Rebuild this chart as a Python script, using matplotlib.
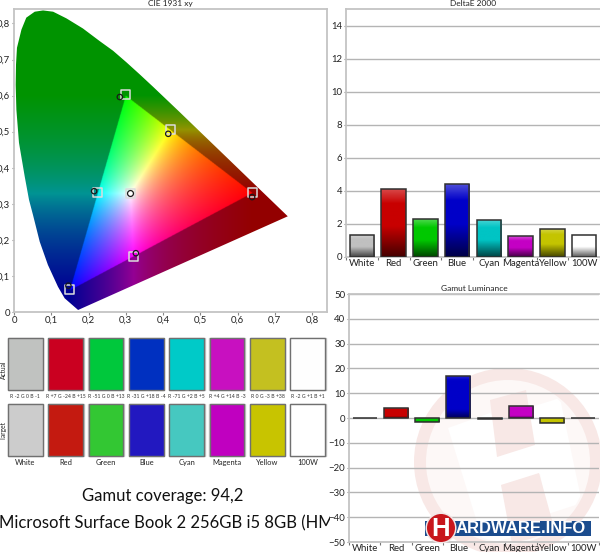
import numpy as np
import matplotlib
matplotlib.use("Agg")
import matplotlib.pyplot as plt
from matplotlib.patches import Circle, Polygon, Rectangle

plt.rcParams['font.family'] = ['Lato', 'DejaVu Sans']

# ---------- data ----------
locus_x = [.172,.136,.118,.091,.069,.051,.0403,.0287,.0134,.0064,.0045,.0054,.008,.020,.033,.0556,.078,.105,.1407,.185,.230,.2658,.3016,.3373,.3731,.4441,.5125,.5752,.6270,.6915,.7190,.7347]
locus_y = [.0056,.038,.070,.1306,.195,.269,.311,.376,.469,.561,.63,.686,.7325,.783,.816,.8325,.836,.8325,.814,.786,.751,.7243,.6923,.6589,.6245,.5547,.4866,.4242,.3725,.3083,.2809,.2653]
gamut_x = [0.64, 0.30, 0.15]
gamut_y = [0.33, 0.60, 0.06]
target_x = [0.3127, 0.640, 0.300, 0.150, 0.223, 0.320, 0.419]
target_y = [0.329, 0.332, 0.602, 0.061, 0.330, 0.155, 0.506]
actual_x = [0.310, 0.639, 0.284, 0.146, 0.215, 0.327, 0.414]
actual_y = [0.331, 0.3185, 0.596, 0.073, 0.335, 0.163, 0.494]
categories = ['White', 'Red', 'Green', 'Blue', 'Cyan', 'Magenta', 'Yellow', '100W']
delta_e = [1.35, 4.15, 2.30, 4.40, 2.27, 1.27, 1.72, 1.35]
luminance = [0.2, 3.9, -1.6, 17.0, -0.4, 4.7, -1.9, 0.2]
bar_colors = ['#c0c0c0', '#c80000', '#00c800', '#0000c8', '#00c4c4', '#c400c4', '#c4c400', '#ffffff']
actual_colors = ['#c0c2c0', '#ca0020', '#00c83c', '#0030c0', '#00cac8', '#c810c0', '#c4c020', '#fefefe']
target_colors = ['#cccccc', '#c41a10', '#33c733', '#2218c0', '#46c8c0', '#c000c0', '#c8c400', '#ffffff']
diff_labels = ['R -2 G 0 B -1', 'R +7 G -24 B +15', 'R -51 G 0 B +13', 'R -31 G +18 B -4',
               'R -71 G +2 B +5', 'R +4 G +14 B -3', 'R 0 G -3 B +38', 'R -2 G +1 B +1']
cie_ticks = [0, .1, .2, .3, .4, .5, .6, .7, .8]
cie_labels = ['0', '0,1', '0,2', '0,3', '0,4', '0,5', '0,6', '0,7', '0,8']

W, H = 600, 552
fig = plt.figure(figsize=(W/100, H/100), dpi=100, facecolor='white')
TXT = '#222222'; SPINE = '#c4c4c4'; GRID = '#b4b4b4'; PINK = '#f8e8e6'
TICK_FS = 6.9; TITLE_FS = 6.0

def axes_px(l, t, r, b, **kw):
    return fig.add_axes([l/W, 1-b/H, (r-l)/W, (b-t)/H], **kw)

# ---------- background layer in pixels ----------
bg = axes_px(0, 0, W, H)
bg.set_xlim(0, W); bg.set_ylim(H, 0); bg.axis('off')

# watermark
cx, cy = 508, 462
clip = Circle((cx, cy), 80, transform=bg.transData)
bg.add_patch(Circle((cx, cy), 94, fc=PINK, ec='none', zorder=1))
bg.add_patch(Circle((cx, cy), 82, fc='#fdf8f7', ec='none', zorder=1.1))
for pts, col in [
    ([(448,428),(490,413),(497,420),(528,408),(560,398),(582,503),(548,514),(540,474),(501,485),(523,534),(484,545)], '#ffffff'),
    ([(490,400),(526,390),(535,445),(497,457)], PINK),
    ([(501,485),(539,473),(552,520),(560,560),(515,560)], PINK),
]:
    p = Polygon(pts, closed=True, fc=col, ec='none', zorder=1.2)
    bg.add_patch(p); p.set_clip_path(clip)

# swatches
sw_w, sw_step, sw_l = 34.7, 40.35, 8
for i in range(8):
    x = sw_l + i*sw_step
    for top, cols in ((338, actual_colors), (404, target_colors)):
        bg.add_patch(Rectangle((x-0.5, top-0.5), sw_w+1, 52.5, fc='none', ec='#c8c8c8', lw=1.0, zorder=1.9))
        bg.add_patch(Rectangle((x, top), sw_w, 51.5, fc=cols[i], ec='#707070', lw=1.0, zorder=2))
    bg.text(x+sw_w/2, 397, diff_labels[i], ha='center', va='center', fontsize=3.7, color='#333333')
    bg.text(x+sw_w/2, 462.5, categories[i], ha='center', va='center', fontsize=5.4, color=TXT)
bg.text(3.3, 370, 'Actual', rotation=90, ha='center', va='center', fontsize=4.8, color=TXT)
bg.text(3.3, 430, 'Target', rotation=90, ha='center', va='center', fontsize=4.8, color=TXT)

bg.text(163, 496.5, 'Gamut coverage: 94,2', ha='center', va='center', fontsize=12, color='#111111')
t = bg.text(-1, 523, 'Microsoft Surface Book 2 256GB i5 8GB (HMW13)', ha='left', va='center',
            fontsize=12, color='#111111')
t.set_clip_on(True)
t.set_clip_path(Rectangle((0, 500), 330, 50, transform=bg.transData))

# ---------- CIE diagram ----------
ax = axes_px(14, 9, 327, 312)
ax.patch.set_alpha(0)
ax.set_xlim(0, 0.84); ax.set_ylim(0, 0.84)
n = 800
xs, ys = np.meshgrid(np.linspace(0, .84, n), np.linspace(0, .84, n))

M = np.array([[3.2406, -1.5372, -0.4986], [-0.9689, 1.8758, 0.0415], [0.0557, -0.2040, 1.0570]])
def colour(x, y):
    y = np.maximum(y, 1e-4)
    X, Y, Z = x/y, np.ones_like(x), (1-x-y)/y
    c = np.stack([M[i,0]*X + M[i,1]*Y + M[i,2]*Z for i in range(3)], axis=-1)
    c = np.clip(c, 0, None)
    c /= np.maximum(c.max(axis=-1, keepdims=True), 1e-6)
    return c**(1/1.15)

(rx, gx, bx), (ry, gy, by) = gamut_x, gamut_y
rb_y = by + (ry-by)*(xs-bx)/(rx-bx)                  # red-blue edge at this x
gb_x = bx + (gx-bx)*(ys-by)/(gy-by)                  # green-blue edge at this y
gr_x = gx + (rx-gx)*(ys-gy)/(ry-gy)                  # green-red edge at this y
below = ys < rb_y
left = (~below) & (xs < gb_x)
right = (~below) & (~left) & (xs > gr_x)
inside = ~(below | left | right)

px, py = xs.copy(), ys.copy()
cl = np.clip(xs[below], bx, rx)
px[below] = cl; py[below] = by + (ry-by)*(cl-bx)/(rx-bx)
yl = np.clip(ys[left], by, gy)
py[left] = yl; px[left] = bx + (gx-bx)*(yl-by)/(gy-by)
yr = np.clip(ys[right], ry, gy)
py[right] = yr; px[right] = gx + (rx-gx)*(yr-gy)/(ry-gy)
# stay a hair inside the triangle so the colour is not clipped to black
rgb = colour(px*0.999+0.3127*0.001, py*0.999+0.329*0.001)
rgb[~inside] *= 0.58
im = ax.imshow(rgb, origin='lower', extent=(0, .84, 0, .84), aspect='auto', interpolation='bilinear', zorder=1)
poly = Polygon(np.column_stack([locus_x, locus_y]), closed=True, transform=ax.transData, fc='none', ec='none')
ax.add_patch(poly)
im.set_clip_path(poly)
ax.scatter(target_x, target_y, marker='s', s=42, facecolors='none', edgecolors='#dcdcdc', linewidths=1.1, zorder=3)
ax.scatter(actual_x[1:], actual_y[1:], marker='o', s=15, facecolors='none', edgecolors='#1a1a1a', linewidths=0.9, zorder=4)
ax.scatter(actual_x[:1], actual_y[:1], marker='o', s=18, facecolors='white', edgecolors='#1a1a1a', linewidths=0.9, zorder=4)
ax.set_xticks(cie_ticks); ax.set_xticklabels(cie_labels)
ax.set_yticks(cie_ticks); ax.set_yticklabels(cie_labels)
ax.tick_params(length=1.8, width=0.8, color='#888888', labelsize=TICK_FS, labelcolor=TXT, pad=1)
ax.set_title('CIE 1931 xy', fontsize=TITLE_FS, color=TXT, pad=2)
for s in ax.spines.values():
    s.set_color(SPINE); s.set_linewidth(1.3)

# ---------- bar charts ----------
def shade(col, light, pos, dark):
    c = np.array(matplotlib.colors.to_rgb(col))
    lc = c + (1-c)*light
    stops = [lc, c, c, c*dark]
    t_ = np.linspace(0, 1, 64)
    return np.stack([np.interp(t_, pos, [s[k] for s in stops]) for k in range(3)], axis=-1)[:, None, :]

def bars(a, vals, light, pos, dark):
    xl, yl = a.get_xlim(), a.get_ylim()
    rects = a.bar(range(8), vals, width=0.77, fc='none', ec='#303030', lw=1.1, zorder=5)
    for r, col, v in zip(rects, bar_colors, vals):
        x0, w = r.get_x(), r.get_width()
        y0, y1 = min(0, v), max(0, v)
        g = a.imshow(shade(col, light, pos, dark), extent=(x0, x0+w, y0, y1), origin='upper', aspect='auto', zorder=4)
        g.set_clip_path(r)
    a.set_xlim(xl); a.set_ylim(yl)

def style_bar(a, yticks, title):
    a.patch.set_alpha(0)
    a.set_xlim(-0.5, 7.5)
    a.set_xticks(np.arange(-0.5, 8, 1)); a.set_xticklabels([])
    a.set_xticks(range(8), minor=True); a.set_xticklabels(categories, minor=True)
    a.tick_params(axis='x', which='major', length=2.2, width=0.8, color='#777777')
    a.tick_params(axis='x', which='minor', length=0, labelsize=TICK_FS, labelcolor=TXT, pad=1.5)
    a.set_yticks(yticks)
    a.tick_params(axis='y', length=1.8, width=0.8, color='#888888', labelsize=TICK_FS, labelcolor=TXT, pad=0.8)
    a.grid(axis='y', color=GRID, lw=1.0, zorder=0)
    a.set_axisbelow(True)
    a.set_title(title, fontsize=TITLE_FS, color=TXT, pad=2)
    a.spines['right'].set_visible(False)
    for k in ('top', 'left', 'bottom'):
        a.spines[k].set_color(SPINE); a.spines[k].set_linewidth(1.3)

a1 = axes_px(346, 9, 600, 257)
a1.set_ylim(0, 15.03)
style_bar(a1, range(0, 15, 2), 'DeltaE 2000')
bars(a1, delta_e, 0.3, [0, .22, .55, 1], 0.35)

a2 = axes_px(349, 294, 599, 542)
a2.set_ylim(-50, 50)
style_bar(a2, range(-50, 51, 10), 'Gamut Luminance')
bars(a2, luminance, 0.15, [0, .12, .8, 1], 0.45)

# ---------- logo ----------
fg = axes_px(0, 0, W, H)
fg.set_xlim(0, W); fg.set_ylim(H, 0); fg.axis('off'); fg.patch.set_alpha(0)
fg.add_patch(Rectangle((425, 521), 166, 15, fc='#1b4c8e', ec='none'))
fg.text(456, 528.8, 'ARDWARE.INFO', ha='left', va='center', color='white', fontsize=12,
        fontweight='bold', family='Liberation Sans')
fg.add_patch(Circle((441, 528), 15.5, fc='#f1e6e6', ec='none'))
fg.add_patch(Circle((441, 528), 14, fc='#c8161c', ec='none'))
fg.text(441, 528.5, 'H', ha='center', va='center', color='white', fontsize=18.5,
        fontweight='bold', family='Liberation Sans')

fig.savefig('out.png', dpi=100)
